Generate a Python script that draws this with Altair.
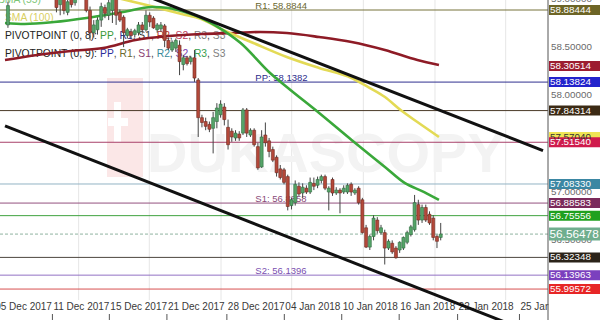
import altair as alt
import pandas as pd

# ---------------- data ----------------
# candle OHLC (price), one entry per bar, left to right
opens = [58.73, 59.02, 59.12, 59.08, 59.18, 59.12, 59.05, 59.14, 59.20, 59.13,
         59.09, 59.04, 59.10, 59.04, 58.94, 59.00, 58.86, 59.01, 58.96, 59.04,
         59.08, 59.03, 58.88, 58.65, 58.68, 58.78, 58.91, 58.83, 58.88, 59.00,
         58.86, 58.81, 58.62, 58.66, 58.63, 58.65, 58.73, 58.68, 58.83, 58.80,
         58.68, 58.69, 58.72, 58.57, 58.47, 58.49, 58.52, 58.32, 58.39, 58.35,
         58.39, 58.16, 57.77, 57.73, 57.70, 57.66, 57.73, 57.80, 57.88, 57.67,
         57.63, 57.56, 57.60, 57.61, 57.85, 57.59, 57.64, 57.47, 57.26, 57.59,
         57.53, 57.44, 57.36, 57.24, 57.23, 57.16, 56.86, 56.89, 57.06, 56.99,
         57.04, 57.00, 57.09, 57.07, 57.12, 57.16, 57.00, 57.13, 56.99, 57.02,
         57.00, 57.00, 57.08, 56.99, 57.04, 56.92, 56.63, 56.43, 56.54, 56.71,
         56.58, 56.58, 56.42, 56.47, 56.42, 56.40, 56.42, 56.48, 56.56, 56.61,
         56.87, 56.71, 56.84, 56.77, 56.73, 56.54, 56.53]
highs = [58.97, 59.15, 59.20, 59.22, 59.25, 59.18, 59.16, 59.24, 59.26, 59.19,
         59.14, 59.12, 59.15, 59.08, 59.05, 59.06, 58.99, 59.06, 59.09, 59.12,
         59.14, 59.08, 58.92, 58.78, 58.81, 58.96, 58.94, 58.99, 59.05, 59.04,
         58.89, 58.83, 58.70, 58.69, 58.69, 58.76, 58.76, 58.88, 58.86, 58.82,
         58.75, 58.76, 58.74, 58.60, 58.57, 58.59, 58.57, 58.42, 58.41, 58.41,
         58.47, 58.18, 57.80, 57.77, 57.73, 57.83, 57.92, 57.95, 57.92, 57.75,
         57.66, 57.64, 57.63, 57.87, 57.87, 57.66, 57.66, 57.51, 57.64, 57.72,
         57.56, 57.47, 57.38, 57.28, 57.25, 57.18, 56.94, 57.12, 57.10, 57.09,
         57.07, 57.15, 57.15, 57.16, 57.18, 57.18, 57.06, 57.15, 57.05, 57.04,
         57.07, 57.09, 57.10, 57.04, 57.06, 56.94, 56.66, 56.56, 56.76, 56.74,
         56.66, 56.61, 56.51, 56.50, 56.44, 56.49, 56.54, 56.60, 56.66, 56.97,
         56.92, 56.87, 56.87, 56.80, 56.76, 56.56, 56.68]
lows = [58.70, 59.00, 59.05, 59.06, 59.10, 59.03, 59.01, 59.10, 59.11, 59.06,
        59.02, 59.00, 59.01, 58.86, 58.83, 58.84, 58.83, 58.91, 58.93, 59.00,
        59.01, 58.86, 58.57, 58.60, 58.63, 58.71, 58.80, 58.78, 58.75, 58.73,
        58.76, 58.50, 58.59, 58.59, 58.60, 58.62, 58.64, 58.66, 58.71, 58.69,
        58.65, 58.66, 58.50, 58.47, 58.45, 58.45, 58.21, 58.26, 58.31, 58.32,
        58.14, 57.57, 57.67, 57.64, 57.62, 57.40, 57.66, 57.77, 57.69, 57.44,
        57.52, 57.53, 57.53, 57.59, 57.57, 57.57, 57.47, 57.23, 57.25, 57.47,
        57.36, 57.31, 57.16, 57.13, 57.08, 56.81, 56.82, 56.86, 56.96, 56.94,
        56.98, 56.98, 57.02, 57.04, 57.09, 57.02, 56.81, 56.96, 56.97, 56.78,
        56.98, 56.98, 56.96, 56.97, 56.87, 56.57, 56.42, 56.40, 56.50, 56.57,
        56.56, 56.25, 56.40, 56.36, 56.31, 56.37, 56.40, 56.46, 56.54, 56.59,
        56.66, 56.68, 56.69, 56.66, 56.50, 56.42, 56.50]
closes = [58.93, 59.12, 59.08, 59.18, 59.12, 59.05, 59.14, 59.20, 59.13, 59.09,
          59.04, 59.10, 59.03, 58.91, 59.02, 58.88, 58.97, 58.94, 59.04, 59.08,
          59.03, 58.88, 58.65, 58.73, 58.78, 58.92, 58.85, 58.96, 59.01, 58.83,
          58.78, 58.65, 58.68, 58.62, 58.67, 58.73, 58.68, 58.83, 58.76, 58.70,
          58.73, 58.73, 58.57, 58.49, 58.55, 58.57, 58.35, 58.39, 58.33, 58.39,
          58.18, 57.77, 57.72, 57.68, 57.65, 57.77, 57.87, 57.91, 57.75, 57.49,
          57.57, 57.61, 57.56, 57.85, 57.61, 57.64, 57.49, 57.25, 57.57, 57.51,
          57.42, 57.33, 57.20, 57.15, 57.10, 56.85, 56.92, 57.08, 56.98, 57.05,
          57.00, 57.10, 57.06, 57.13, 57.16, 57.04, 57.04, 56.99, 57.02, 56.99,
          57.04, 57.07, 57.00, 57.02, 56.89, 56.58, 56.43, 56.54, 56.73, 56.60,
          56.63, 56.42, 56.49, 56.38, 56.32, 56.48, 56.53, 56.58, 56.64, 56.89,
          56.71, 56.84, 56.71, 56.68, 56.53, 56.49, 56.565]

# moving averages: (bar position, price) points
sma55_pos = [-0.79, 4.47, 12.37, 21.05, 30.79, 38.68, 43.16, 47.37, 51.84, 56.32,
             62.37, 70.26, 74.74, 83.42, 92.11, 101.05, 106.32, 111.58, 115.53]
sma55_val = [58.750, 58.740, 58.760, 58.802, 58.864, 58.916, 58.905, 58.864, 58.802, 58.708,
             58.543, 58.232, 58.087, 57.818, 57.539, 57.259, 57.094, 57.000, 56.918]
sma100_pos = [22.89, 31.58, 36.05, 41.32, 46.58, 51.84, 57.11, 65.79, 74.74, 83.42,
              92.11, 96.58, 101.05, 105.26, 109.74, 115.53]
sma100_val = [59.071, 58.988, 58.947, 58.895, 58.843, 58.791, 58.688, 58.543, 58.398, 58.284,
              58.181, 58.087, 57.984, 57.849, 57.725, 57.570]
sma200_pos = [-0.79, 7.89, 16.84, 25.53, 34.21, 43.16, 51.84, 60.53, 67.63, 74.74,
              83.42, 92.11, 101.05, 109.74, 115.53]
sma200_val = [58.367, 58.419, 58.460, 58.491, 58.574, 58.615, 58.636, 58.646, 58.657, 58.646,
              58.605, 58.553, 58.470, 58.367, 58.315]

# trend channel lines
chan_up_pos = [36.05, 143.42]
chan_up_val = [59.046, 57.429]
chan_lo_pos = [-0.79, 143.42]
chan_lo_val = [57.684, 55.499]

# horizontal levels
level_values = [58.88444, 58.13824, 57.84314, 57.51540, 57.08330, 56.88583,
                56.75556, 56.32348, 56.13963, 55.99572]
current_price = 56.56478

pivot_names = ["R1", "PP", "S1", "S2"]
pivot_values = [58.88444, 58.13824, 56.88583, 56.13963]
pivot_label_pos = 66.3

# price boxes on the right scale
box_values = [58.88444, 58.30514, 58.13824, 57.84314, 57.57040, 57.51540, 57.08330,
              56.88583, 56.75556, 56.32348, 56.13963, 55.99572]
axis_values = [59.0, 58.5, 58.0, 57.5, 57.0, 56.5, 56.0]

# date axis
date_tick_pos = [-3.68, 11.92, 27.18, 42.61, 58.68, 74.08, 89.47, 104.87, 120.53, 137.11]
date_tick_labels = ["05 Dec 2017", "11 Dec 2017", "15 Dec 2017", "21 Dec 2017", "28 Dec 2017",
                    "04 Jan 2018", "10 Jan 2018", "16 Jan 2018", "22 Jan 2018", "25 Jan 2018"]
grid_pos = [18.95, 37.89, 57.11, 76.05, 95.26, 114.47, 133.42]

pivot_series = ["PP", "R1", "S1", "R2", "S2", "R3", "S3"]

# ---------------- styles ----------------
FONT = "Liberation Sans"
level_line_colors = ["#77733a", "#30308f", "#4a3a28", "#a8406a", "#93b4c4", "#94507e",
                     "#3fa23f", "#4d463e", "#9272c4", "#d85050"]
pivot_label_colors = ["#6b6830", "#2c2c8c", "#8a4a78", "#7a50b0"]
box_fills = ["#6d6526", "#9c1c30", "#2323cc", "#3b2a14", "#efe454", "#cf1b4c", "#3b87a3",
             "#7b2a5b", "#1fa01f", "#2b2319", "#7b40be", "#e72626"]
box_text_colors = ["white", "white", "white", "white", "#333333", "white", "white",
                   "white", "white", "white", "white", "white"]
legend8_colors = ["#3c9a3c", "#2d2d8a", "#333333", "#c0392b", "#c04060", "#808080", "#808080"]
legend9_colors = ["#2d2d9a", "#6b6a30", "#8a4070", "#3a8a9a", "#7a40b0", "#3aa050", "#808080"]
GREEN, RED = "#55a468", "#b4483a"
GREEN_EDGE, RED_EDGE = "#2f6b40", "#6e2a20"

xs = alt.Scale(domain=[-0.79, 143.42], nice=False, zero=False)
ys = alt.Scale(domain=[55.8824, 58.988], nice=False, zero=False)


def qx(f):
    return alt.X(f"{f}:Q", scale=xs, axis=None)


def qy(f):
    return alt.Y(f"{f}:Q", scale=ys, axis=None)


one = pd.DataFrame({"a": [0]})

AW = {'P': 667, 'I': 278, 'V': 667, 'O': 778, 'T': 611, 'N': 722, ' ': 278, '(': 333,
      ')': 333, ',': 278, ':': 278, 'R': 722, 'S': 667}


def tw(s, size):
    return sum(AW.get(ch, 556) for ch in s) * size / 1000.0


def label(text, x, y, color, size, **kw):
    return alt.Chart(one).mark_text(
        text=text, align="left", baseline="alphabetic", font=FONT,
        fontSize=size, color=color, **kw
    ).encode(x=alt.value(x), y=alt.value(y))


layers = []

# vertical grid
layers.append(alt.Chart(pd.DataFrame({"k": grid_pos})).mark_rule(
    color="#e6e6e6", strokeWidth=1).encode(x=qx("k")))

# watermark
layers.append(alt.Chart(one).mark_rect(color="#fbe7e7").encode(
    x=alt.value(107), x2=alt.value(143), y=alt.value(78), y2=alt.value(177)))
layers.append(alt.Chart(one).mark_rect(color="white").encode(
    x=alt.value(114), x2=alt.value(121), y=alt.value(102), y2=alt.value(142)))
layers.append(alt.Chart(one).mark_rect(color="white").encode(
    x=alt.value(108), x2=alt.value(128), y=alt.value(118), y2=alt.value(126)))
layers.append(label("DUKASCOPY", 147, 172, "#f3f3f3", 56, fontWeight="bold"))

# date labels and tick marks
dates_df = pd.DataFrame({"k": date_tick_pos, "lab": date_tick_labels})
layers.append(alt.Chart(dates_df).mark_text(
    align="left", baseline="top", dx=1, font=FONT, fontSize=10, color="#3a3a3a"
).encode(x=qx("k"), y=alt.value(302), text="lab:N"))
layers.append(alt.Chart(dates_df).mark_rule(color="#555555", strokeWidth=1).encode(
    x=qx("k"), y=alt.value(314), y2=alt.value(320)))

# legend text
LS = 10.3
layers.append(label("SMA (55)", -2, 3, "#7cc576", LS))
layers.append(label("SMA (100)", 5, 21, "#d9cf5f", LS))
for base_y, prefix, cols in [(39, "PIVOTPOINT (0, 8): ", legend8_colors),
                             (57, "PIVOTPOINT (0, 9): ", legend9_colors)]:
    x = 5.0
    layers.append(label(prefix, x, base_y, "#222222", LS))
    x += tw(prefix, LS)
    for i, (name, col) in enumerate(zip(pivot_series, cols)):
        layers.append(label(name, x, base_y, col, LS))
        x += tw(name, LS)
        if i < len(pivot_series) - 1:
            layers.append(label(", ", x, base_y, "#444444", LS))
            x += tw(", ", LS)

# pivot labels
piv_df = pd.DataFrame({
    "k": [pivot_label_pos] * len(pivot_values),
    "v": pivot_values,
    "lab": [f"{n}: {v:.4f}" for n, v in zip(pivot_names, pivot_values)],
    "col": pivot_label_colors,
})
layers.append(alt.Chart(piv_df).mark_text(
    align="left", baseline="alphabetic", dy=-1, font=FONT, fontSize=9.5
).encode(x=qx("k"), y=qy("v"), text="lab:N", color=alt.Color("col:N", scale=None)))

# horizontal level lines
lvl_df = pd.DataFrame({"v": level_values, "col": level_line_colors})
layers.append(alt.Chart(lvl_df).mark_rule(strokeWidth=1).encode(
    y=qy("v"), color=alt.Color("col:N", scale=None)))
layers.append(alt.Chart(pd.DataFrame({"v": [current_price]})).mark_rule(
    strokeWidth=1, color="#8fb4a0", strokeDash=[3, 2]).encode(y=qy("v")))

# moving averages
for pos, val, col in [(sma200_pos, sma200_val, "#8e1b26"),
                      (sma100_pos, sma100_val, "#e3da55"),
                      (sma55_pos, sma55_val, "#3aa83a")]:
    layers.append(alt.Chart(pd.DataFrame({"k": pos, "v": val})).mark_line(
        strokeWidth=2.6, color=col, interpolate="monotone").encode(x=qx("k"), y=qy("v")))

# channel lines
for pos, val in [(chan_up_pos, chan_up_val), (chan_lo_pos, chan_lo_val)]:
    layers.append(alt.Chart(pd.DataFrame({"k": pos, "v": val})).mark_line(
        strokeWidth=3, color="#111111").encode(x=qx("k"), y=qy("v")))

# candles
cdf = pd.DataFrame({"k": list(range(len(opens))), "o": opens, "h": highs,
                    "l": lows, "c": closes})
up = alt.datum.c >= alt.datum.o
layers.append(alt.Chart(cdf).mark_rule(color="#444444", strokeWidth=1).encode(
    x=qx("k"), y=qy("l"), y2="h:Q"))
layers.append(alt.Chart(cdf).mark_bar(size=3, strokeWidth=0.6).encode(
    x=qx("k"), y=qy("o"), y2="c:Q",
    color=alt.when(up).then(alt.value(GREEN)).otherwise(alt.value(RED)),
    stroke=alt.when(up).then(alt.value(GREEN_EDGE)).otherwise(alt.value(RED_EDGE))))

# right-hand price panel
layers.append(alt.Chart(one).mark_rect(color="white").encode(
    x=alt.value(548.5), x2=alt.value(600), y=alt.value(0), y2=alt.value(320)))
layers.append(alt.Chart(one).mark_rule(color="#555555", strokeWidth=1).encode(
    x=alt.value(548), y=alt.value(0), y2=alt.value(320)))

ax_df = pd.DataFrame({"v": axis_values, "lab": [f"{v:.5f}" for v in axis_values]})
layers.append(alt.Chart(ax_df).mark_text(
    align="left", baseline="middle", font=FONT, fontSize=9.8, color="#6a6a6a"
).encode(x=alt.value(551), y=qy("v"), text="lab:N"))

box_df = pd.DataFrame({"v": box_values, "lab": [f"{v:.5f}" for v in box_values],
                       "fill": box_fills, "tcol": box_text_colors})
layers.append(alt.Chart(box_df).mark_rule(strokeWidth=10).encode(
    x=alt.value(549), x2=alt.value(600), y=qy("v"), color=alt.Color("fill:N", scale=None)))
layers.append(alt.Chart(box_df).mark_text(
    align="left", baseline="middle", font=FONT, fontSize=9.8
).encode(x=alt.value(550), y=qy("v"), text="lab:N", color=alt.Color("tcol:N", scale=None)))

cur_df = pd.DataFrame({"v": [current_price], "lab": [f"{current_price:.5f}"]})
layers.append(alt.Chart(cur_df).mark_rule(strokeWidth=13, color="#6fae8e").encode(
    x=alt.value(549), x2=alt.value(600), y=qy("v")))
layers.append(alt.Chart(cur_df).mark_text(
    align="left", baseline="middle", font=FONT, fontSize=11.8, color="white"
).encode(x=alt.value(549.5), y=qy("v"), text="lab:N"))

chart = alt.layer(*layers).properties(
    width=548, height=300,
    autosize=alt.AutoSizeParams(type="none"),
    padding={"left": 0, "top": 0, "right": 52, "bottom": 20},
    background="white",
).configure_view(stroke="transparent")

chart.save("out.html", embed_options={"renderer": "svg", "actions": False})
